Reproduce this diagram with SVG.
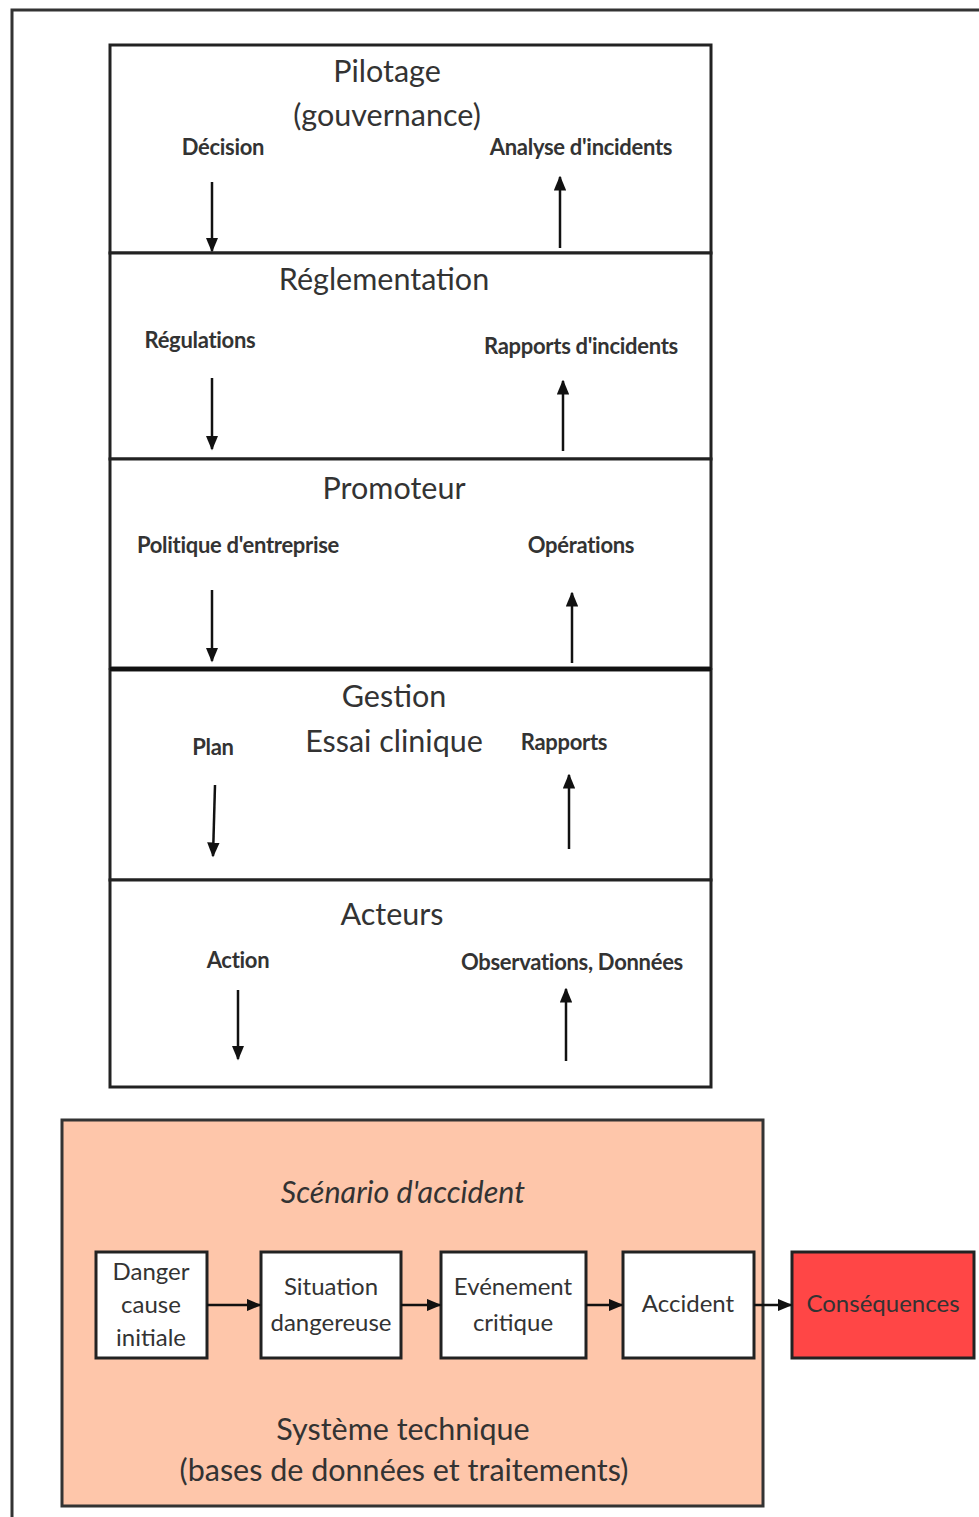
<svg xmlns="http://www.w3.org/2000/svg" width="979" height="1517" viewBox="0 0 979 1517">
<style>
text{font-family:Lato,"Open Sans","Liberation Sans",sans-serif;fill:#333;text-anchor:middle}
.t{font-size:30.5px}
.l{font-size:22px;font-weight:bold;letter-spacing:-0.3px}
.b{font-size:24px}
.box{fill:#fff;stroke:#222;stroke-width:3}
.ln{stroke:#111;stroke-width:2.5;fill:none}
</style>
<defs>
<marker id="ah" viewBox="0 0 10 10" refX="9" refY="5" markerWidth="6" markerHeight="5" orient="auto" markerUnits="strokeWidth" preserveAspectRatio="none">
<path d="M0,0 L10,5 L0,10 z" fill="#111"/>
</marker>
</defs>
<rect x="0" y="0" width="979" height="1517" fill="#fff"/>
<rect id="frame" x="12" y="10" width="990" height="1530" fill="none" stroke="#333" stroke-width="3"/>
<g id="pilotage">
<rect class="box" x="110" y="45" width="601" height="208"/>
<text class="t" x="387" y="82">Pilotage</text>
<text class="t" x="387" y="126">(gouvernance)</text>
<text class="l" x="223" y="155">Décision</text>
<text class="l" x="581" y="155">Analyse d'incidents</text>
</g>
<g id="reglementation">
<rect class="box" x="110" y="253" width="601" height="206"/>
<text class="t" x="384" y="290">Réglementation</text>
<text class="l" x="200" y="348">Régulations</text>
<text class="l" x="581" y="354">Rapports d'incidents</text>
</g>
<g id="promoteur">
<rect class="box" x="110" y="459" width="601" height="209"/>
<text class="t" x="394" y="499">Promoteur</text>
<text class="l" x="238" y="553">Politique d'entreprise</text>
<text class="l" x="581" y="553">Opérations</text>
</g>
<g id="gestion">
<rect class="box" x="110" y="670" width="601" height="210"/>
<line x1="110" y1="669" x2="711" y2="669" stroke="#111" stroke-width="4"/>
<text class="t" x="394" y="707">Gestion</text>
<text class="t" x="394" y="752">Essai clinique</text>
<text class="l" x="213" y="755">Plan</text>
<text class="l" x="564" y="750">Rapports</text>
</g>
<g id="acteurs">
<rect class="box" x="110" y="880" width="601" height="207"/>
<text class="t" x="392" y="925">Acteurs</text>
<text class="l" x="238" y="968">Action</text>
<text class="l" x="572" y="970">Observations, Données</text>
</g>
<g id="systeme">
<rect x="62" y="1120" width="701" height="386" fill="#FEC6AA" stroke="#333" stroke-width="3"/>
<text class="t" x="403" y="1203" font-style="italic">Scénario d'accident</text>
<text class="t" x="403" y="1440">Système technique</text>
<text class="t" x="404" y="1481">(bases de données et traitements)</text>
</g>
<g id="danger">
<rect class="box" x="96" y="1252" width="111" height="106"/>
<text class="b" x="151" y="1280">Danger</text>
<text class="b" x="151" y="1313">cause</text>
<text class="b" x="151" y="1346">initiale</text>
</g>
<g id="situation">
<rect class="box" x="261" y="1252" width="140" height="106"/>
<text class="b" x="331" y="1295">Situation</text>
<text class="b" x="331" y="1331">dangereuse</text>
</g>
<g id="evenement">
<rect class="box" x="441" y="1252" width="145" height="106"/>
<text class="b" x="513" y="1295">Evénement</text>
<text class="b" x="513" y="1331">critique</text>
</g>
<g id="accident">
<rect class="box" x="623" y="1252" width="131" height="106"/>
<text class="b" x="688" y="1312">Accident</text>
</g>
<g id="consequences">
<rect x="792" y="1252" width="182" height="106" fill="#FF4646" stroke="#222" stroke-width="3"/>
<text class="b" x="883" y="1312" fill="#3a1010">Conséquences</text>
</g>
<g id="connectors">
<line class="ln" x1="212" y1="182" x2="212" y2="251" marker-end="url(#ah)"/>
<line class="ln" x1="560" y1="248" x2="560" y2="177" marker-end="url(#ah)"/>
<line class="ln" x1="212" y1="378" x2="212" y2="449" marker-end="url(#ah)"/>
<line class="ln" x1="563" y1="451" x2="563" y2="381" marker-end="url(#ah)"/>
<line class="ln" x1="212" y1="590" x2="212" y2="661" marker-end="url(#ah)"/>
<line class="ln" x1="572" y1="663" x2="572" y2="593" marker-end="url(#ah)"/>
<line class="ln" x1="215" y1="785" x2="213" y2="856" marker-end="url(#ah)"/>
<line class="ln" x1="569" y1="849" x2="569" y2="775" marker-end="url(#ah)"/>
<line class="ln" x1="238" y1="990" x2="238" y2="1059" marker-end="url(#ah)"/>
<line class="ln" x1="566" y1="1061" x2="566" y2="989" marker-end="url(#ah)"/>
<line class="ln" x1="207" y1="1305" x2="260" y2="1305" marker-end="url(#ah)"/>
<line class="ln" x1="401" y1="1305" x2="440" y2="1305" marker-end="url(#ah)"/>
<line class="ln" x1="586" y1="1305" x2="622" y2="1305" marker-end="url(#ah)"/>
<line class="ln" x1="754" y1="1305" x2="791" y2="1305" marker-end="url(#ah)"/>
</g>
</svg>
